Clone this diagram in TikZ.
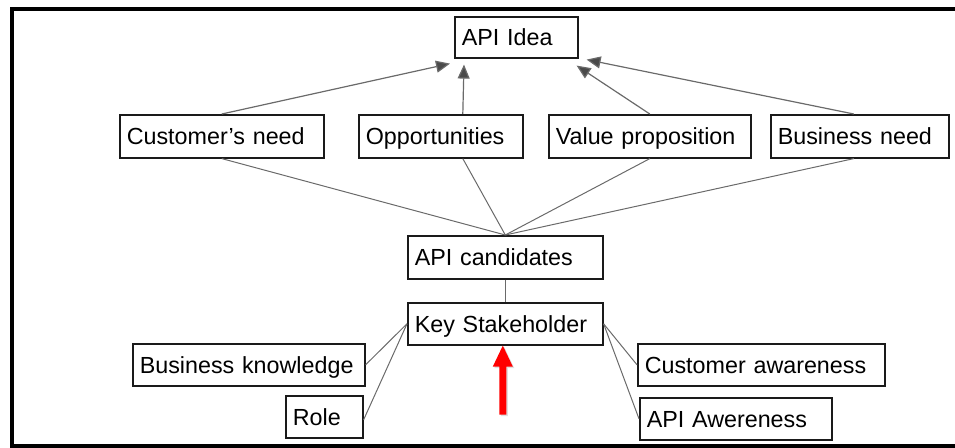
\documentclass[tikz,border=0pt]{standalone}
\usepackage{fontspec}
\setmainfont{Liberation Sans}
\usetikzlibrary{arrows.meta,calc}
\definecolor{linegray}{HTML}{6A6A6A}
\definecolor{headgray}{HTML}{4A4A4A}
\definecolor{boxline}{HTML}{1A1A1A}
\tikzset{
  box/.style={draw=boxline, line width=1.6pt, anchor=north west, inner xsep=7pt, inner ysep=0pt,
    align=left, text height=16.8pt, text depth=0pt, font=\fontsize{23.3}{28}\selectfont},
  feed/.style={draw=linegray, line width=1.2pt, -{Triangle[length=14pt,width=12pt,fill=headgray]}},
  link/.style={draw=linegray, line width=1pt},
}
\begin{document}
\begin{tikzpicture}[x=1pt,y=-1pt]
\useasboundingbox (0,0) rectangle (955,447);
% frame (no right side)
\draw[line width=4pt] (955,9) -- (12,9) -- (12,445.5) -- (955,445.5);
% boxes
\node[box, text width=109pt, minimum height=41pt] (idea) at (454,16) {API Idea};
\node[box, text width=190pt, minimum height=43pt] (cn) at (119,114) {Customer’s need};
\node[box, text width=150pt, minimum height=43pt] (op) at (358,114) {Opportunities};
\node[box, text width=188pt, minimum height=43pt] (vp) at (548,114) {Value proposition};
\node[box, text width=164pt, minimum height=43pt] (bn) at (770,114) {Business need};
\node[box, text width=181pt, minimum height=43pt] (cand) at (407,235) {API candidates};
\node[box, text width=181pt, minimum height=42pt] (ks) at (407,302) {Key Stakeholder};
\node[box, text width=218pt, minimum height=42pt] (bk) at (132,343) {Business knowledge};
\node[box, text width=63pt, minimum height=42pt] (role) at (285,395) {Role};
\node[box, text width=233pt, minimum height=42pt] (ca) at (637,343) {Customer awareness};
\node[box, text width=178pt, minimum height=42pt] (aa) at (639,397) {API Awereness};
% arrow tips below API Idea
\coordinate (t1) at ($(idea.south west)+(-4,5)$);
\coordinate (t2) at ($(idea.south west)+(10,6)$);
\coordinate (t3) at ($(idea.south east)+(-2,7)$);
\coordinate (t4) at ($(idea.south east)+(8,1)$);
\draw[feed] (cn.north) -- (t1);
\draw[feed] ([xshift=22pt]op.north) -- (t2);
\draw[feed] (vp.north) -- (t3);
\draw[feed] ([xshift=-6pt]bn.north) -- (t4);
% lines to API candidates
\draw[link] (cn.south) -- (cand.north);
\draw[link] ([xshift=22pt]op.south) -- (cand.north);
\draw[link] (vp.south) -- (cand.north);
\draw[link] ([xshift=-6pt]bn.south) -- (cand.north);
\draw[link] (cand.south) -- (ks.north);
% stakeholder links
\draw[link] (ks.west) -- (bk.east);
\draw[link] (ks.west) -- ([yshift=-3pt]role.east);
\draw[link] (ks.east) -- (ca.west);
\draw[link] (ks.east) -- (aa.west);
% red arrow
\coordinate (redtip) at ([xshift=-2.5pt]ks.south);
\fill[black!25, opacity=0.5] ([shift={(1.5,1.5)}]redtip) -- ++(10,21) -- ++(-6.5,0) -- ++(0,48) -- ++(-7,0) -- ++(0,-48) -- ++(-6.5,0) -- cycle;
\fill[red] (redtip) -- ++(10,21) -- ++(-6.5,0) -- ++(0,48) -- ++(-7,0) -- ++(0,-48) -- ++(-6.5,0) -- cycle;
\end{tikzpicture}
\end{document}
